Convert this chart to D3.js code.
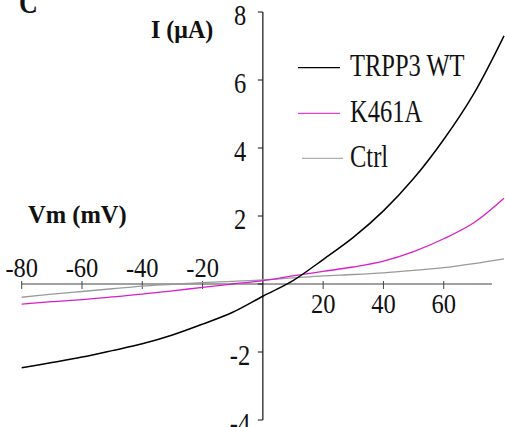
<!DOCTYPE html>
<html>
<head>
<meta charset="utf-8">
<script src="https://cdn.jsdelivr.net/npm/d3@7"></script>
<style>
	html, body { margin: 0; padding: 0; background: #fff; }
	svg { display: block; }
	text { font-family: "Liberation Serif", "Times New Roman", serif; fill: #111; }
	.bold { font-weight: bold; }
</style>
</head>
<body>
<svg id="chart" width="505" height="427"></svg>
<script>
	//DATA
	var voltages = [-80, -70, -60, -50, -40, -30, -20, -10, 0, 10, 20, 30, 40, 50, 60, 70, 80];
	var wtValues = [-2.46, -2.31, -2.15, -1.96, -1.76, -1.50, -1.18, -0.83, -0.36, 0.10, 0.72, 1.37, 2.15, 3.10, 4.25, 5.60, 7.30];
	var k461aValues = [-0.59, -0.52, -0.46, -0.38, -0.30, -0.20, -0.10, 0.00, 0.10, 0.24, 0.37, 0.50, 0.67, 0.95, 1.33, 1.80, 2.52];
	var ctrlValues = [-0.39, -0.30, -0.22, -0.14, -0.06, -0.01, 0.04, 0.08, 0.12, 0.18, 0.24, 0.28, 0.33, 0.40, 0.48, 0.60, 0.74];
	var seriesNames = ["TRPP3 WT", "K461A", "Ctrl"];
	var xTicks = [-80, -60, -40, -20, 20, 40, 60];
	var yTicks = [-4, -2, 0, 2, 4, 6, 8];
	var yTickLabels = ["-4", "-2", "", "2", "4", "6", "8"];
	var xAxisEnd = 76;

	var colors = ["#000000", "#d81ecb", "#9a9a9a"];
	var widths = [1.5, 1.3, 1.3];

	var svg = d3.select("#chart");

	var x = d3.scaleLinear().domain([-80, 80]).range([21.7, 504]);
	var y = d3.scaleLinear().domain([-4, 8]).range([420, 12]);

	var series = [wtValues, k461aValues, ctrlValues].map(function (vals, i) {
		return {
			name: seriesNames[i],
			points: vals.map(function (v, j) { return { v: voltages[j], i: v }; })
		};
	});

	// axes
	svg.append("line")
		.attr("x1", x(-80)).attr("x2", x(xAxisEnd))
		.attr("y1", y(0)).attr("y2", y(0))
		.attr("stroke", "#444").attr("stroke-width", 1.2);

	svg.append("line")
		.attr("x1", x(0)).attr("x2", x(0))
		.attr("y1", y(8)).attr("y2", y(-4))
		.attr("stroke", "#111").attr("stroke-width", 1.2);

	svg.selectAll(".xtick")
		.data(xTicks).enter().append("line")
		.attr("class", "xtick")
		.attr("x1", function (d) { return x(d); })
		.attr("x2", function (d) { return x(d); })
		.attr("y1", y(0) - 3).attr("y2", y(0) + 5)
		.attr("stroke", "#444").attr("stroke-width", 1);

	svg.selectAll(".xlabel")
		.data(xTicks).enter().append("text")
		.attr("class", "xlabel")
		.attr("text-anchor", "middle")
		.attr("font-size", 24.5)
		.attr("transform", function (d) {
			var ty = d < 0 ? y(0) - 7 : y(0) + 29;
			return "translate(" + x(d) + "," + ty + ") scale(1,1.08)";
		})
		.text(function (d) { return d; });

	svg.selectAll(".ytick")
		.data(yTicks).enter().append("line")
		.attr("class", "ytick")
		.attr("x1", x(0) - 5).attr("x2", x(0))
		.attr("y1", function (d) { return y(d); })
		.attr("y2", function (d) { return y(d); })
		.attr("stroke", "#111").attr("stroke-width", 1);

	svg.selectAll(".ylabel")
		.data(yTicks).enter().append("text")
		.attr("class", "ylabel")
		.attr("text-anchor", "middle")
		.attr("font-size", 24.5)
		.attr("transform", function (d) {
			return "translate(240," + (y(d) + 13) + ") scale(1,1.18)";
		})
		.text(function (d, i) { return yTickLabels[i]; });

	// curves
	var line = d3.line()
		.x(function (d) { return x(d.v); })
		.y(function (d) { return y(d.i); })
		.curve(d3.curveCatmullRom.alpha(0.5));

	svg.selectAll(".curve")
		.data(series.slice().reverse()).enter().append("path")
		.attr("class", "curve")
		.attr("d", function (d) { return line(d.points); })
		.attr("fill", "none")
		.attr("stroke", function (d) { return colors[seriesNames.indexOf(d.name)]; })
		.attr("stroke-width", function (d) { return widths[seriesNames.indexOf(d.name)]; });

	// legend
	var legendY = [67.7, 113.3, 158.3];
	var legend = svg.selectAll(".legend")
		.data(seriesNames).enter().append("g")
		.attr("class", "legend");

	legend.append("line")
		.attr("x1", function (d, i) { return i === 2 ? 302 : 298; })
		.attr("x2", function (d, i) { return i === 2 ? 343 : 340; })
		.attr("y1", function (d, i) { return legendY[i]; })
		.attr("y2", function (d, i) { return legendY[i]; })
		.attr("stroke", function (d, i) { return i === 1 ? "#e040d4" : colors[i]; })
		.attr("stroke-width", function (d, i) { return i === 2 ? 1 : 1.3; });

	legend.append("text")
		.attr("font-size", 24.5)
		.attr("transform", function (d, i) {
			return "translate(350," + (legendY[i] + 8.5) + ") scale(1,1.27)";
		})
		.text(function (d) { return d; });

	// titles
	svg.append("text").attr("class", "bold")
		.attr("font-size", 24)
		.attr("transform", "translate(151,37.5) scale(1,1.05)")
		.text("I (μA)");

	svg.append("text").attr("class", "bold")
		.attr("font-size", 24.5)
		.attr("x", 28).attr("y", 223)
		.text("Vm (mV)");

	svg.append("text").attr("class", "bold")
		.attr("font-size", 26)
		.attr("transform", "translate(19,13) scale(1,1.2)")
		.text("C");
</script>
</body>
</html>
